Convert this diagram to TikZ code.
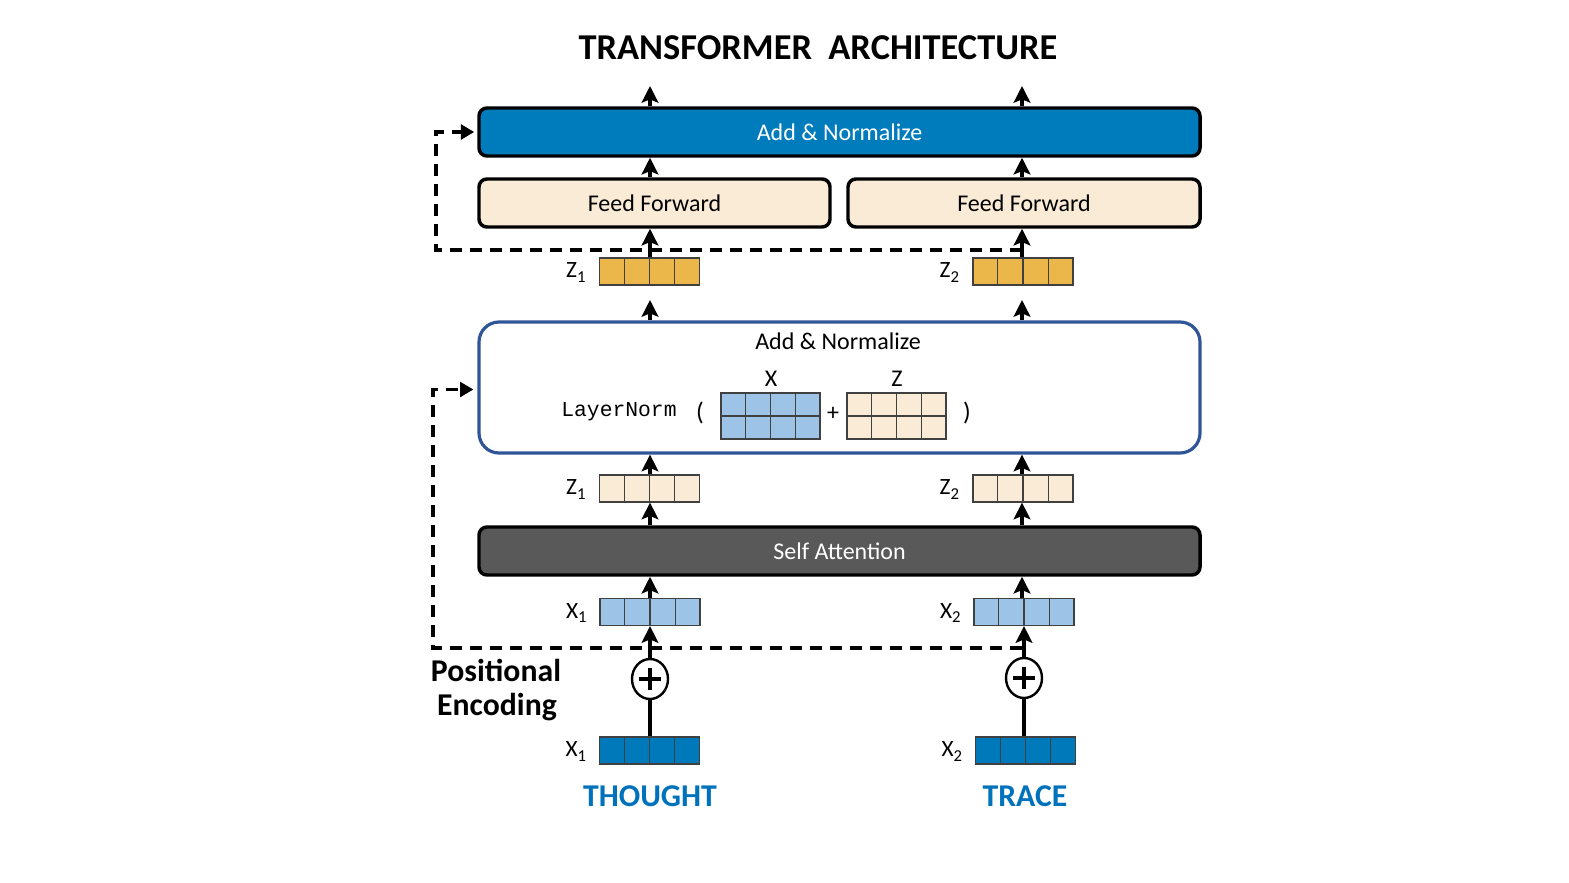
\documentclass[tikz,border=0pt]{standalone}
\usepackage{fontspec}
\setmainfont{Carlito}
\setmonofont{Liberation Mono}
\usetikzlibrary{arrows.meta,shapes.geometric,calc}
\definecolor{addblue}{RGB}{0,123,187}
\definecolor{ffbeige}{RGB}{250,235,215}
\definecolor{zorange}{RGB}{236,183,74}
\definecolor{lblue}{RGB}{157,195,230}
\definecolor{dblue}{RGB}{0,121,186}
\definecolor{sagray}{RGB}{89,89,89}
\definecolor{midblue}{RGB}{47,85,151}
\definecolor{wordblue}{RGB}{0,114,188}
\newcommand\mysub[1]{\raisebox{-3.6pt}{\fontsize{12.5pt}{13pt}\selectfont #1}}
\newcommand\cellvec[4]{%
  \node[vecnode, fill=#3] (#1) at (#2) {};
  \foreach \i in {1,2,3}
    \draw[cellline] ($(#1.north west)!\i/4!(#1.north east)$) -- ($(#1.south west)!\i/4!(#1.south east)$);
  \node[veclabel] (#1lab) at ($(#1.west)+(-23,1)$) {#4};
}
\newcommand\cellmat[3]{%
  \node[matnode, fill=#3] (#1) at (#2) {};
  \foreach \i in {1,2,3}
    \draw[cellline] ($(#1.north west)!\i/4!(#1.north east)$) -- ($(#1.south west)!\i/4!(#1.south east)$);
  \draw[cellline] (#1.west) -- (#1.east);
}
\begin{document}
\begin{tikzpicture}[x=0.75pt,y=-0.75pt,
  arr/.style={line width=2.6pt,-{Stealth[length=12.5pt,width=12.5pt,inset=2.5pt]}},
  plain/.style={line width=2.6pt},
  dsh/.style={line width=2.6pt,dash pattern=on 9pt off 6pt,-{Triangle[length=10pt,width=11pt]}},
  bigbox/.style={draw, line width=2.6pt, rounded corners=6pt, minimum height=36pt, inner sep=0pt, font=\fontsize{18pt}{20pt}\selectfont},
  vecnode/.style={draw=black!75, line width=0.9pt, minimum width=75pt, minimum height=20.25pt, inner sep=0pt},
  matnode/.style={draw=black!75, line width=0.9pt, minimum width=74.25pt, minimum height=34.5pt, inner sep=0pt},
  cellline/.style={draw=black!75, line width=0.9pt},
  veclabel/.style={font=\fontsize{17.5pt}{19pt}\selectfont, inner sep=0pt},
  txt/.style={font=\fontsize{18pt}{20pt}\selectfont, inner sep=0pt},
  bigword/.style={font=\fontsize{23.8pt}{26pt}\selectfont\bfseries, inner sep=0pt},
  pe/.style={ellipse, draw, line width=1.8pt, minimum width=27pt, minimum height=30pt, inner sep=0pt, fill=white}
]
\useasboundingbox (0,0) rectangle (1569,882);

% title
\node[font=\fontsize{27.3pt}{30pt}\selectfont\bfseries, inner sep=0pt] (title) at (818,48) {TRANSFORMER\ \ ARCHITECTURE};

% boxes
\node[bigbox, fill=addblue, text=white, minimum width=540.75pt] (add) at (839.5,132) {Add \& Normalize};
\node[bigbox, fill=ffbeige, minimum width=263.25pt] (ffl) at (654.5,203) {Feed Forward};
\node[bigbox, fill=ffbeige, minimum width=264pt] (ffr) at (1024,203) {Feed Forward};
\node[draw=midblue, line width=2.4pt, rounded corners=15pt, minimum width=540.75pt, minimum height=98.25pt, inner sep=0pt] (mid) at (839.5,387.5) {};
\node[bigbox, fill=sagray, text=white, minimum width=540.75pt] (sa) at (839.5,551) {Self Attention};

% vectors
\cellvec{zoa}{649.5,271.5}{zorange}{Z\mysub{1}}
\cellvec{zob}{1023,271.5}{zorange}{Z\mysub{2}}
\cellvec{zba}{649.5,488.5}{ffbeige}{Z\mysub{1}}
\cellvec{zbb}{1023,488.5}{ffbeige}{Z\mysub{2}}
\cellvec{xla}{650,612}{lblue}{X\mysub{1}}
\cellvec{xlb}{1024,612}{lblue}{X\mysub{2}}
\cellvec{xda}{649.5,750.5}{dblue}{X\mysub{1}}
\cellvec{xdb}{1025.5,750.5}{dblue}{X\mysub{2}}

% inside mid box
\node[txt] (midtitle) at (838,341) {Add \& Normalize};
\node[font=\ttfamily\fontsize{16pt}{18pt}\selectfont, inner sep=0pt] (ln) at (619,412) {LayerNorm};
\node[txt, font=\fontsize{19pt}{20pt}\selectfont] (lp) at (700,413) {(};
\node[txt, font=\fontsize{19pt}{20pt}\selectfont] (rp) at (967,413) {)};
\cellmat{xm}{770.5,416}{lblue}
\cellmat{zm}{896.5,416}{ffbeige}
\node[txt] (plus) at (833,414) {+};
\node[txt] (xlab) at (771,379) {X};
\node[txt] (zlab) at (897,379) {Z};

% positional encoding circles
\node[pe] (pa) at (650,679) {};
\node[pe] (pb) at (1024,678) {};
\foreach \c in {pa,pb}{
  \draw[line width=2.3pt] ($(\c.center)+(-11,0)$) -- ($(\c.center)+(11,0)$);
  \draw[line width=2.3pt] ($(\c.center)+(0,-11)$) -- ($(\c.center)+(0,11)$);
}

% words
\node[bigword] (pos) at (496,670) {Positional};
\node[bigword] (enc) at (497,707) {Encoding};
\node[bigword, text=wordblue] (thought) at (650,796) {THOUGHT};
\node[bigword, text=wordblue] (trace) at (1025,796) {TRACE};

% output coordinates
\coordinate (oa) at (650,86);
\coordinate (ob) at (1022,86);
\coordinate (ma) at (650,300);
\coordinate (mb) at (1022,300);

% arrows left column
\draw[arr] (oa|-add.north) -- (oa);
\draw[arr] (oa|-ffl.north) -- (oa|-add.south);
\draw[arr] (oa|-zoa.north) -- (oa|-ffl.south);
\draw[arr] (ma|-mid.north) -- (ma);
\draw[arr] (oa|-zba.north) -- (oa|-mid.south);
\draw[arr] (oa|-sa.north) -- (oa|-zba.south);
\draw[arr] (oa|-xla.north) -- (oa|-sa.south);
\draw[arr] (pa.north) -- (pa|-xla.south);
\draw[plain] (pa|-xda.north) -- (pa.south);

% arrows right column
\draw[arr] (ob|-add.north) -- (ob);
\draw[arr] (ob|-ffr.north) -- (ob|-add.south);
\draw[arr] (ob|-zob.north) -- (ob|-ffr.south);
\draw[arr] (mb|-mid.north) -- (mb);
\draw[arr] (ob|-zbb.north) -- (ob|-mid.south);
\draw[arr] (ob|-sa.north) -- (ob|-zbb.south);
\draw[arr] (ob|-xlb.north) -- (ob|-sa.south);
\draw[arr] (pb.north) -- (pb|-xlb.south);
\draw[plain] (pb|-xdb.north) -- (pb.south);

% dashed residual connections
\coordinate (da) at (1022,250);
\coordinate (dac) at (436,250);
\coordinate (db) at (1022,648);
\coordinate (dbc) at (433,648);
\draw[dsh] (da) -- (dac) |- ($(add.west)+(-3,0)$);
\draw[dsh] (db) -- (dbc) |- ($(mid.west)+(-4,2)$);
\end{tikzpicture}
\end{document}
